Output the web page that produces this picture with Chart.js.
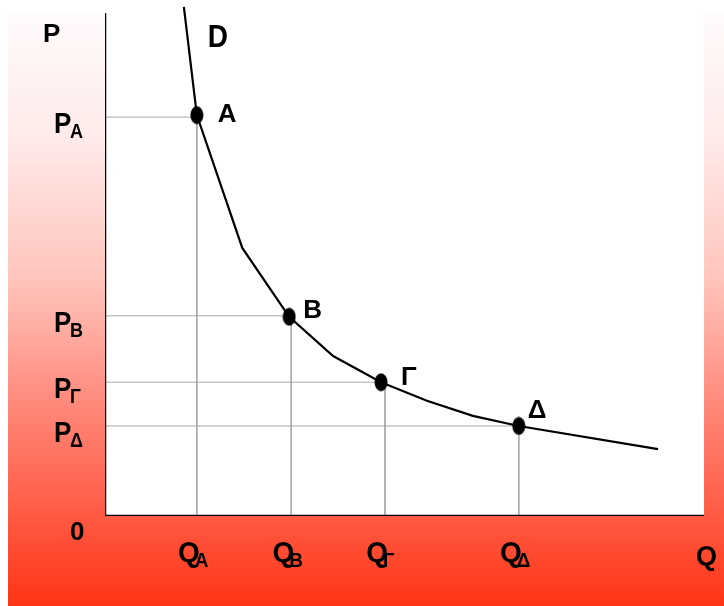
<!DOCTYPE html>
<html>
<head>
<meta charset="utf-8">
<script src="https://cdn.jsdelivr.net/npm/chart.js@4.4.1/dist/chart.umd.min.js"></script>
<style>
  html, body { margin: 0; padding: 0; background: #fff; }
  #wrap { width: 724px; height: 606px; }
</style>
</head>
<body>
<div id="wrap"><canvas id="myChart" width="724" height="606"></canvas></div>
<script>
// demand curve D (x = Q, y = P)
const curveQ = [15.8, 18.4, 27.5, 36.9, 45.7, 55.3, 64.5, 73.7, 82.9, 110.8];
const curveP = [101.2, 79.7, 53.3, 39.6, 31.8, 26.6, 22.9, 19.9, 17.9, 13.3];

// marked points A, B, Γ, Δ
const pointNames = ['A', 'B', 'Γ', 'Δ'];
const pointQ = [18.4, 36.9, 55.3, 82.9];
const pointP = [79.7, 39.6, 26.6, 17.9];

// tick positions of the guide lines
const qTicks = [18.4, 37.3, 56.1, 82.9];
const pTicks = [79.3, 39.8, 26.6, 17.9];
const tickSubs = ['A', 'B', 'Γ', 'Δ'];

const xMax = 120;
const yMax = 100;

const FONT = '"Liberation Sans", Arial, sans-serif';

// black ellipse used as the point marker
const dot = document.createElement('canvas');
dot.width = 14;
dot.height = 19;
(() => {
  const c = dot.getContext('2d');
  c.fillStyle = '#000';
  c.beginPath();
  c.ellipse(7, 9.5, 6.5, 9, 0, 0, Math.PI * 2);
  c.fill();
})();

const guideSets = qTicks.map((q, i) => ({
  data: [{x: 0, y: pTicks[i]}, {x: q, y: pTicks[i]}, {x: q, y: 0}],
  borderColor: '#a8a8a8',
  borderWidth: 1,
  pointRadius: 0,
  showLine: true,
  fill: false
}));

const background = {
  id: 'background',
  beforeDraw(chart) {
    const ctx = chart.ctx;
    const a = chart.chartArea;
    ctx.save();
    ctx.fillStyle = '#fff';
    ctx.fillRect(0, 0, chart.width, chart.height);
    const g = ctx.createLinearGradient(0, 13, 0, chart.height);
    g.addColorStop(0, '#fffafa');
    g.addColorStop(0.2, '#ffeceb');
    g.addColorStop(0.45, '#ffc4bc');
    g.addColorStop(0.7, '#ff7e6e');
    g.addColorStop(1, '#ff3416');
    ctx.fillStyle = g;
    ctx.fillRect(8, 13, chart.width - 8, chart.height - 13);
    ctx.fillStyle = '#fff';
    ctx.fillRect(a.left, a.top, a.right - a.left, a.bottom - a.top);
    ctx.restore();
  }
};

// draws text a little taller than wide, like the original
function tallText(ctx, s, x, y, sy) {
  ctx.save();
  ctx.translate(x, y);
  ctx.scale(1, sy);
  ctx.fillText(s, 0, 0);
  ctx.restore();
}

const labels = {
  id: 'labels',
  afterDatasetsDraw(chart) {
    const ctx = chart.ctx;
    const xs = chart.scales.x;
    const ys = chart.scales.y;
    ctx.save();
    ctx.fillStyle = '#000';
    ctx.textBaseline = 'alphabetic';

    // P ticks with subscripts
    pTicks.forEach((p, i) => {
      const y = ys.getPixelForValue(p);
      ctx.font = 'bold 26px ' + FONT;
      ctx.textAlign = 'left';
      tallText(ctx, 'P', 54, y + 16, 1.12);
      ctx.font = 'bold 18px ' + FONT;
      tallText(ctx, tickSubs[i], 70, y + 21, 1.12);
    });

    // Q ticks with subscripts
    qTicks.forEach((q, i) => {
      const x = xs.getPixelForValue(q);
      ctx.font = 'bold 28px ' + FONT;
      ctx.textAlign = 'right';
      tallText(ctx, 'Q', x + 3, 562, 1.08);
      ctx.font = 'bold 19px ' + FONT;
      ctx.textAlign = 'left';
      tallText(ctx, tickSubs[i], x - 2, 567, 1.08);
    });

    ctx.textAlign = 'left';
    ctx.font = 'bold 26px ' + FONT;
    ctx.fillText('0', 70, 540);
    ctx.fillText('P', 43, 42);
    ctx.font = 'bold 27px ' + FONT;
    ctx.fillText('Q', 696, 565);
    ctx.font = 'bold 28px ' + FONT;
    tallText(ctx, 'D', xs.getPixelForValue(curveQ[0]) + 24, 47, 1.1);

    // point names
    const offs = [[21, 7], [14, 1], [20, 3], [9, -8]];
    ctx.font = 'bold 26px ' + FONT;
    pointNames.forEach((n, i) => {
      const x = xs.getPixelForValue(pointQ[i]);
      const y = ys.getPixelForValue(pointP[i]);
      ctx.fillText(n, x + offs[i][0], y + offs[i][1]);
    });
    ctx.restore();
  }
};

// first dataset is drawn on top
const ctx = document.getElementById('myChart');
const myChart = new Chart(ctx, {
  type: 'scatter',
  data: {
    datasets: [
      {
        data: pointQ.map((q, i) => ({x: q, y: pointP[i]})),
        pointStyle: dot,
        pointRadius: 7,
        showLine: false
      },
      {
        data: curveQ.map((q, i) => ({x: q, y: curveP[i]})),
        borderColor: '#000',
        borderWidth: 2.2,
        pointRadius: 0,
        showLine: true,
        tension: 0,
        clip: false
      },
      {
        // axes
        data: [{x: 0, y: yMax}, {x: 0, y: 0}, {x: xMax, y: 0}],
        borderColor: '#000',
        borderWidth: 2.5,
        pointRadius: 0,
        showLine: true
      },
      ...guideSets
    ]
  },
  options: {
    responsive: false,
    animation: false,
    events: [],
    layout: {
      padding: {left: 105, right: 20, top: 13, bottom: 90}
    },
    plugins: {
      legend: {display: false},
      tooltip: {enabled: false}
    },
    scales: {
      x: {type: 'linear', min: 0, max: xMax, display: false},
      y: {type: 'linear', min: 0, max: yMax, display: false}
    }
  },
  plugins: [background, labels]
});
</script>
</body>
</html>
